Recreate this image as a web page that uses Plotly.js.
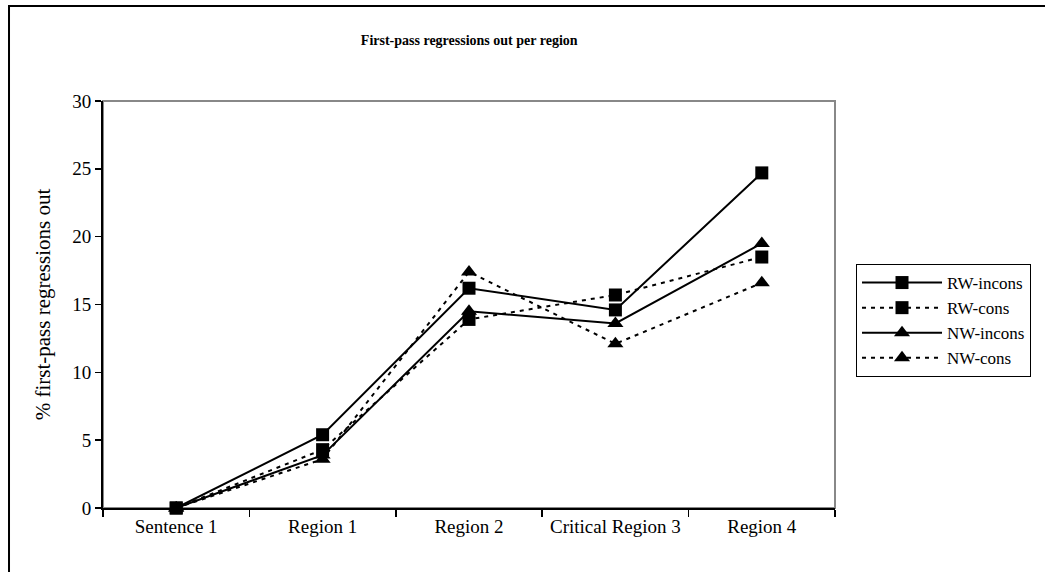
<!DOCTYPE html>
<html>
<head>
<meta charset="utf-8">
<script src="https://cdn.plot.ly/plotly-3.0.1.min.js"></script>
<style>
  html, body { margin: 0; padding: 0; background: #fff; }
  #chart { width: 1045px; height: 572px; }
</style>
</head>
<body>
<div id="chart"></div>
<script>
const categories = ["Sentence 1", "Region 1", "Region 2", "Critical Region 3", "Region 4"];
const rwIncons = [0, 5.4, 16.2, 14.6, 24.7];
const rwCons   = [0, 4.3, 13.9, 15.7, 18.5];
const nwIncons = [0, 3.9, 14.5, 13.6, 19.5];
const nwCons   = [0, 3.6, 17.4, 12.1, 16.6];
const seriesNames = ["RW-incons", "RW-cons", "NW-incons", "NW-cons"];
const yTicks = [0, 5, 10, 15, 20, 25, 30];

const font = "Times New Roman, Liberation Serif, Times, serif";

function mk(name, y, dash, symbol) {
  return {
    type: "scatter", mode: "lines+markers", name: name,
    x: categories, y: y,
    line: {color: "#000", width: 2, dash: dash},
    marker: {symbol: symbol, size: symbol === "square" ? 13 : 14, color: "#000", line: {width: 0}},
    cliponaxis: false
  };
}

const data = [
  mk(seriesNames[0], rwIncons, "solid", "square"),
  mk(seriesNames[1], rwCons, "4px,5px", "square"),
  mk(seriesNames[2], nwIncons, "solid", "triangle-up"),
  mk(seriesNames[3], nwCons, "4px,5px", "triangle-up")
];

const layout = {
  width: 1045, height: 572,
  margin: {l: 103, r: 210, t: 101, b: 64, autoexpand: false},
  paper_bgcolor: "#fff", plot_bgcolor: "#fff",
  font: {family: font, size: 19, color: "#000"},
  title: {text: "<b>First-pass regressions out per region</b>", font: {family: font, size: 14, color: "#000"},
          x: 0.449, xanchor: "center", y: 0.93, yanchor: "middle"},
  xaxis: {
    type: "category", showgrid: false, zeroline: false, automargin: false,
    showline: true, linecolor: "#000", linewidth: 2,
    ticks: "outside", ticklen: 7, tickcolor: "#000", tickwidth: 1.5,
    tickson: "boundaries", range: [-0.5, 4.5],
    tickfont: {family: font, size: 19, color: "#000"}
  },
  yaxis: {
    range: [0, 30], tickvals: yTicks, showgrid: false, zeroline: false, automargin: false,
    showline: true, linecolor: "#000", linewidth: 2,
    ticks: "outside", ticklen: 6, tickcolor: "#000", tickwidth: 1.5,
    tickfont: {family: font, size: 19, color: "#000"},
    title: {text: "% first-pass regressions out", font: {family: font, size: 21, color: "#000"}, standoff: 16}
  },
  showlegend: true,
  legend: {
    x: 1.0287, y: 0.5995, xanchor: "left", yanchor: "top",
    bordercolor: "#000", borderwidth: 1, bgcolor: "#fff",
    font: {family: font, size: 17, color: "#000"},
    itemwidth: 80, tracegroupgap: 0
  },
  shapes: [
    {type: "rect", xref: "paper", yref: "paper", x0: 0, x1: 1, y0: 0, y1: 1,
     line: {color: "#888", width: 2}, layer: "below"},
    {type: "rect", xref: "paper", yref: "paper", x0: -0.1284, x1: 1.3, y0: -0.2, y1: 1.2334,
     line: {color: "#000", width: 2}, layer: "below"}
  ]
};

Plotly.newPlot("chart", data, layout, {staticPlot: true});
</script>
</body>
</html>
